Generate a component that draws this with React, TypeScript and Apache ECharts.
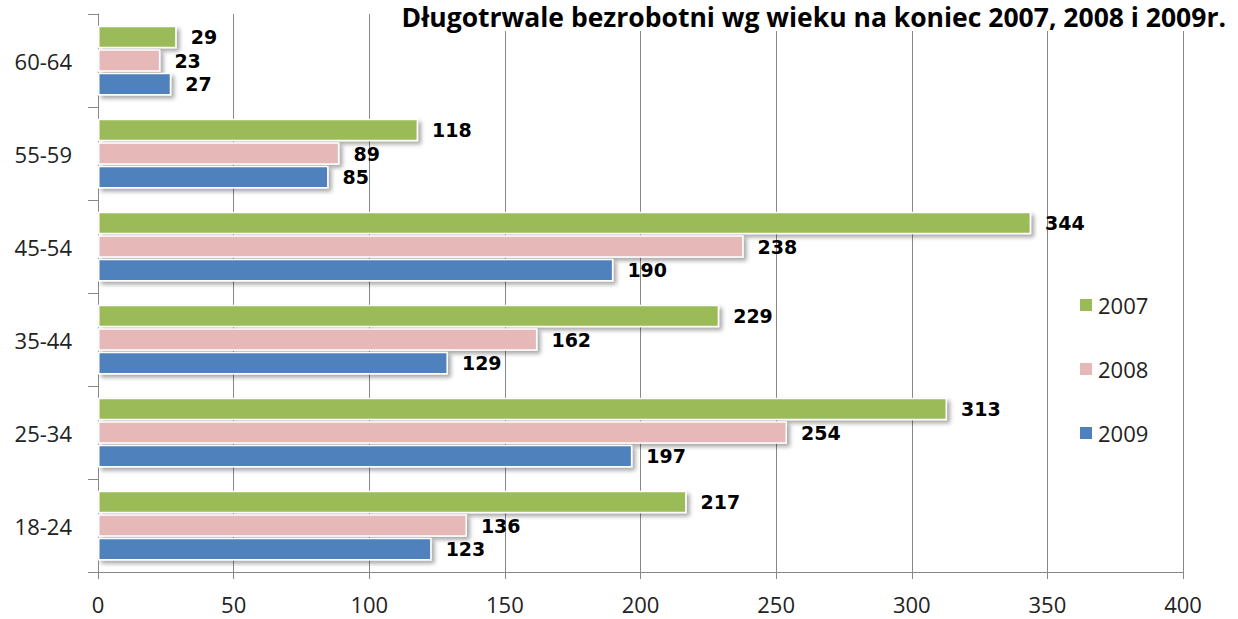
import React, { useEffect, useRef } from "react";
import * as echarts from "echarts";

const categories = ["18-24", "25-34", "35-44", "45-54", "55-59", "60-64"];
const values2007 = [217, 313, 229, 344, 118, 29];
const values2008 = [136, 254, 162, 238, 89, 23];
const values2009 = [123, 197, 129, 190, 85, 27];
const xTicks = [0, 50, 100, 150, 200, 250, 300, 350, 400];
const titleText = "Długotrwale bezrobotni wg wieku na koniec 2007, 2008 i 2009r.";

const colors = { "2007": "#9BBB59", "2008": "#E6B9B8", "2009": "#4F81BD" };

export default function App() {
  const ref = useRef<HTMLDivElement>(null);
  useEffect(() => {
    if (!ref.current) return;
    const chart = echarts.init(ref.current, undefined, { renderer: "svg" });
    const mk = (name: string, data: number[]) => ({
      name,
      type: "bar",
      data,
      barGap: "4%",
      barCategoryGap: "25%",
      itemStyle: {
        color: (colors as any)[name],
        borderColor: "#ffffff",
        borderWidth: 1.5,
        shadowColor: "rgba(0,0,0,0.35)",
        shadowBlur: 4,
        shadowOffsetX: 3,
        shadowOffsetY: 3,
      },
      label: {
        show: true,
        position: "right",
        distance: 14,
        fontFamily: "DejaVu Sans",
        fontWeight: "bold",
        fontSize: 19,
        color: "#000",
      },
    });
    chart.setOption({
      animation: false,
      backgroundColor: "#ffffff",
      title: {
        text: titleText,
        right: 8,
        top: 3,
        padding: [0, 4, 0, 4],
        backgroundColor: "#ffffff",
        textStyle: {
          fontFamily: "Open Sans",
          fontWeight: "bold",
          fontSize: 26.5,
          lineHeight: 28,
          color: "#000",
        },
      },
      legend: {
        data: ["2007", "2008", "2009"],
        orient: "vertical",
        left: 1073,
        top: 289,
        itemWidth: 14,
        itemHeight: 14,
        itemGap: 42,
        icon: "rect",
        textStyle: { fontFamily: "Open Sans", fontSize: 22, color: "#222" },
      },
      grid: { left: 98, right: 55, top: 14, bottom: 47, containLabel: false },
      xAxis: {
        type: "value",
        min: xTicks[0],
        max: xTicks[xTicks.length - 1],
        interval: 50,
        axisLine: { show: true, lineStyle: { color: "#888" } },
        axisTick: { show: true, length: 7, lineStyle: { color: "#888" } },
        splitLine: { show: true, lineStyle: { color: "#888", width: 1 } },
        axisLabel: { fontFamily: "Open Sans", fontSize: 22, color: "#222", margin: 21 },
      },
      yAxis: {
        type: "category",
        data: categories,
        axisLine: { show: true, lineStyle: { color: "#888" } },
        axisTick: { show: true, length: 10, lineStyle: { color: "#888" } },
        axisLabel: { fontFamily: "Open Sans", fontSize: 22, color: "#222", margin: 26 },
      },
      series: [mk("2007", values2007), mk("2008", values2008), mk("2009", values2009)],
    });
    return () => chart.dispose();
  }, []);
  return <div ref={ref} style={{ width: 1238, height: 619, position: "absolute", left: 0, top: 0 }} />;
}
